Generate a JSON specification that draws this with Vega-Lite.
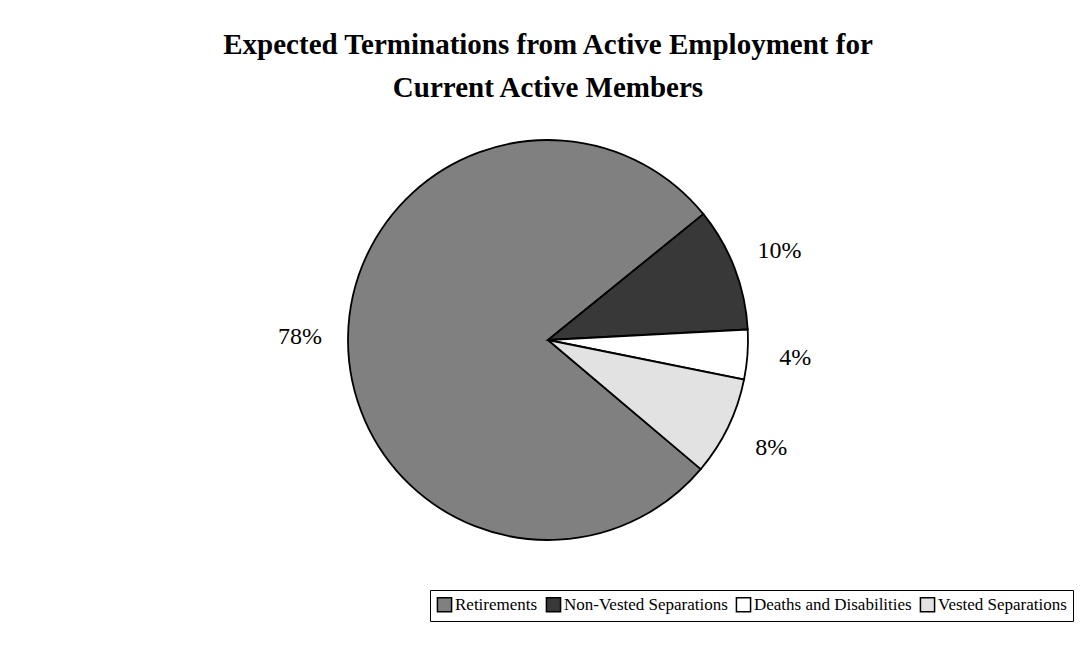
{
  "$schema": "https://vega.github.io/schema/vega-lite/v6.json",
  "autosize": {"type": "none"},
  "width": 1056,
  "height": 400,
  "padding": {"left": 20, "top": 140, "right": 4, "bottom": 108},
  "background": "white",
  "config": {"view": {"stroke": null}, "font": "Liberation Serif"},
  "title": {
    "text": ["Expected Terminations from Active Employment for", "Current Active Members"],
    "font": "Liberation Serif",
    "fontSize": 29,
    "fontWeight": "bold",
    "color": "black",
    "anchor": "middle",
    "lineHeight": 43,
    "offset": 33
  },
  "data": {
    "values": [
      {"category": "Retirements", "pct": 78, "label": "78%", "slice": 4},
      {"category": "Non-Vested Separations", "pct": 10, "label": "10%", "slice": 1},
      {"category": "Deaths and Disabilities", "pct": 4, "label": "4%", "slice": 2},
      {"category": "Vested Separations", "pct": 8, "label": "8%", "slice": 3}
    ]
  },
  "encoding": {
    "theta": {"field": "pct", "type": "quantitative", "stack": true, "scale": {"range": [0.89, 7.1732]}},
    "order": {"field": "slice", "type": "quantitative"}
  },
  "layer": [
    {
      "mark": {"type": "arc", "outerRadius": 200, "stroke": "black", "strokeWidth": 1.8},
      "encoding": {
        "color": {
          "field": "category",
          "type": "nominal",
          "sort": ["Retirements", "Non-Vested Separations", "Deaths and Disabilities", "Vested Separations"],
          "scale": {
            "domain": ["Retirements", "Non-Vested Separations", "Deaths and Disabilities", "Vested Separations"],
            "range": ["#808080", "#383838", "#ffffff", "#e2e2e2"]
          },
          "legend": {
            "title": null,
            "orient": "none",
            "legendX": 410,
            "legendY": 450,
            "direction": "horizontal",
            "symbolType": "square",
            "symbolSize": 200,
            "symbolStrokeColor": "black",
            "symbolStrokeWidth": 1.5,
            "symbolOpacity": 1,
            "labelFont": "Liberation Serif",
            "labelFontSize": 17,
            "labelColor": "black",
            "labelOffset": 2,
            "labelLimit": 400,
            "columnPadding": 5,
            "strokeColor": "black",
            "fillColor": "white",
            "padding": 6
          }
        }
      }
    },
    {
      "mark": {"type": "text", "radius": 248, "font": "Liberation Serif", "fontSize": 24, "color": "black"},
      "encoding": {
        "text": {"field": "label", "type": "nominal"}
      }
    }
  ]
}
